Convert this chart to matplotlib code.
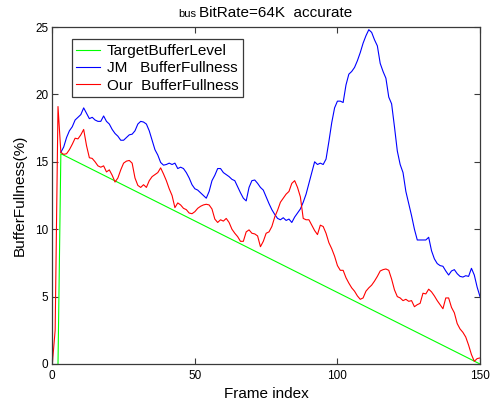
import matplotlib
matplotlib.use("Agg")
import matplotlib.pyplot as plt

# Buffer fullness (%) per frame, bus sequence at 64 kbit/s
target_frames = [2, 3, 150]
target_level = [0.0, 15.6, 0.0]

jm_start = 3
jm_fullness = [
    15.7, 16.1, 16.8, 17.3, 17.6, 18.1, 18.3, 18.5, 19.0, 18.6,   # 3-12
    18.2, 18.3, 18.1, 18.0, 18.0, 18.4, 18.0, 17.8, 17.4, 17.1,   # 13-22
    16.9, 16.6, 16.6, 16.8, 17.0, 17.05, 17.3, 17.8, 18.0, 17.95, # 23-32
    17.8, 17.3, 16.6, 15.9, 15.5, 14.95, 14.75, 14.8, 14.9, 14.8, # 33-42
    14.9, 14.5, 14.6, 14.5, 14.2, 13.8, 13.3, 13.0, 12.9, 12.7,   # 43-52
    12.5, 12.3, 12.8, 13.6, 14.0, 14.5, 14.5, 14.2, 14.05, 13.9,  # 53-62
    13.7, 13.6, 13.15, 12.7, 12.3, 12.1, 13.1, 13.6, 13.65, 13.4, # 63-72
    13.1, 12.9, 12.4, 11.9, 11.45, 11.1, 10.8, 10.7, 10.85, 10.65,# 73-82
    10.75, 10.5, 10.9, 11.2, 11.5, 12.0, 12.6, 13.4, 14.2, 15.0,  # 83-92
    14.8, 14.9, 14.8, 15.2, 16.5, 17.9, 19.0, 19.5, 19.5, 19.4,   # 93-102
    20.7, 21.5, 21.7, 22.0, 22.5, 23.1, 23.8, 24.35, 24.8, 24.6,  # 103-112
    24.05, 23.6, 22.3, 21.7, 21.2, 19.8, 19.3, 17.6, 15.8, 14.8,  # 113-122
    14.2, 12.8, 11.9, 11.0, 10.0, 9.2, 9.2, 9.2, 9.2, 9.4,        # 123-132
    8.4, 7.8, 7.45, 7.3, 7.25, 6.9, 6.6, 6.9, 7.0, 6.7,           # 133-142
    6.5, 6.45, 6.55, 6.5, 7.1, 6.6, 5.7, 5.0,                     # 143-150
]

our_start = 0
our_fullness = [
    0.0, 2.5, 19.1, 15.7, 15.55, 15.6, 15.9, 16.3, 16.75, 16.7,   # 0-9
    17.0, 17.4, 16.2, 15.3, 15.25, 15.0, 14.7, 14.6, 14.7, 14.25, # 10-19
    14.4, 14.0, 13.5, 13.8, 14.4, 14.9, 15.05, 15.1, 14.9, 13.8,  # 20-29
    13.25, 13.1, 13.3, 13.1, 13.6, 13.9, 14.05, 14.2, 14.55, 14.1,# 30-39
    13.6, 13.0, 12.5, 11.6, 11.95, 11.8, 11.55, 11.45, 11.2, 11.15,  # 40-49
    11.3, 11.55, 11.7, 11.8, 11.85, 11.8, 11.5, 10.75, 10.5, 10.7,   # 50-59
    10.6, 10.8, 10.5, 10.0, 9.7, 9.45, 9.1, 9.1, 9.8, 9.95,       # 60-69
    9.7, 9.65, 9.5, 8.7, 9.1, 9.7, 9.8, 10.2, 10.9, 11.4,         # 70-79
    12.0, 12.3, 12.6, 12.8, 13.4, 13.6, 13.1, 12.4, 10.8, 10.7,   # 80-89
    10.7, 10.3, 9.9, 9.6, 10.3, 10.2, 9.7, 9.0, 8.55, 8.0,        # 90-99
    7.3, 6.95, 6.95, 6.4, 6.0, 5.65, 5.4, 5.05, 4.8, 4.9,         # 100-109
    5.4, 5.65, 5.85, 6.15, 6.5, 6.9, 7.0, 7.05, 6.95, 6.3,        # 110-119
    5.5, 5.0, 4.9, 4.7, 4.8, 4.65, 4.7, 4.25, 4.4, 4.5,           # 120-129
    5.25, 5.2, 5.55, 5.35, 5.05, 4.7, 4.4, 4.1, 4.9, 4.9,         # 130-139
    4.2, 3.8, 3.0, 2.6, 2.35, 2.0, 1.4, 0.7, 0.2, 0.4,            # 140-149
    0.45,                                                         # 150
]

x_ticks = [0, 50, 100, 150]
y_ticks = [0, 5, 10, 15, 20, 25]
series_labels = ["TargetBufferLevel", "JM   BufferFullness", "Our  BufferFullness"]

jm_frames = list(range(jm_start, jm_start + len(jm_fullness)))
our_frames = list(range(our_start, our_start + len(our_fullness)))

plt.rcParams["font.family"] = ["Liberation Sans", "DejaVu Sans"]
frame_color = "#3a3a3a"

fig = plt.figure(figsize=(4.9, 4.07), dpi=100)
ax = fig.add_axes([52.3 / 490, 1 - 364 / 407, (480 - 52.3) / 490, (364 - 27) / 407])

lw = 0.8
ax.plot(target_frames, target_level, color="#00ff00", lw=lw, label=series_labels[0])
ax.plot(jm_frames, jm_fullness, color="#0000ff", lw=lw, label=series_labels[1])
ax.plot(our_frames, our_fullness, color="#ff0000", lw=lw, label=series_labels[2])

ax.set_xlim(0, 150)
ax.set_ylim(0, 25)
ax.set_xticks(x_ticks)
ax.set_yticks(y_ticks)
ax.tick_params(direction="in", length=4, width=0.8, color=frame_color,
               top=True, right=True, labelsize=8.5, pad=4)
ax.tick_params(axis="y", pad=3)
for sp in ax.spines.values():
    sp.set_color(frame_color)
    sp.set_linewidth(0.9)

ax.set_xlabel("Frame index", fontsize=11, labelpad=4)
ax.set_ylabel("BufferFullness(%)", fontsize=11, labelpad=6)

leg = ax.legend(loc="upper left", bbox_to_anchor=((71.7 - 52.3) / 427.7, 1 - (39.3 - 27) / 337),
                fontsize=11, frameon=True, fancybox=False, shadow=False,
                handlelength=1.55, handletextpad=0.45, labelspacing=0.22,
                borderpad=0.3, borderaxespad=0.0)
leg.get_frame().set_edgecolor(frame_color)
leg.get_frame().set_linewidth(0.9)
leg.get_frame().set_alpha(1.0)

# Two-size title: small sequence name followed by the rate settings
fig.text(196 / 490, 1 - 17 / 407, "bus", fontsize=8, ha="right", va="baseline")
fig.text(199 / 490, 1 - 17 / 407, "BitRate=64K  accurate", fontsize=11,
         ha="left", va="baseline")

fig.savefig("out.png", dpi=100)
